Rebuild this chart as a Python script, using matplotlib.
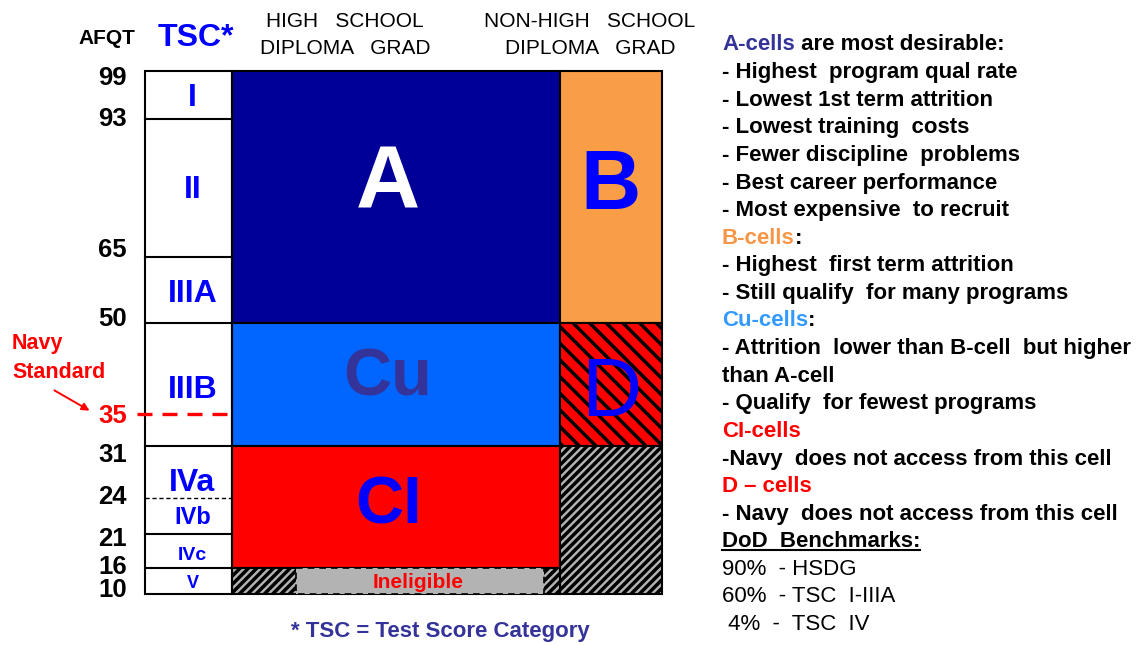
import numpy as np
import matplotlib
matplotlib.use('Agg')
import matplotlib.pyplot as plt
from matplotlib.patches import Rectangle

plt.rcParams['font.family'] = ['Liberation Sans', 'DejaVu Sans']
plt.rcParams['hatch.linewidth'] = 2.5

# AFQT percentile ticks and where they sit on the (non-linear) chart scale
afqt_ticks = [99, 93, 65, 50, 35, 31, 24, 21, 16, 10]
tick_y = [71, 119, 257, 323, 414, 446, 498, 534, 568, 594]
tick_dy = [7, 0, -7, -4, 2, 9, -1, 5, -1, -4]

# test score categories: label, top, bottom
tsc_labels = ['I', 'II', 'IIIA', 'IIIB', 'IVa', 'IVb', 'IVc', 'V']
tsc_top = [99, 93, 65, 50, 31, 24, 21, 16]
tsc_bot = [93, 65, 50, 31, 24, 21, 16, 10]
tsc_size = [23, 23, 23, 23, 23, 17, 14, 13]
tsc_dy = [3, 2, 4, 6, 11, 2, 5, 2]

# cells: name, column (0 = HS grad, 1 = non-HS grad), top, bottom
cell_names = ['A', 'B', 'Cu', 'D', 'CI', '', '']
cell_col = [0, 1, 0, 1, 0, 1, 0]
cell_top = [99, 99, 50, 50, 31, 31, 16]
cell_bot = [50, 50, 31, 31, 16, 10, 10]
cell_face = ['#000099', '#F99D46', '#0066FF', '#FF0000', '#FF0000', '#B3B3B3', '#B3B3B3']
cell_hatch = [None, None, None, '\\\\', None, '////', '////']
cell_text_col = ['white', '#0000FF', '#333399', '#0000FF', '#0000FF', 'k', 'k']
cell_text_size = [64, 60, 48, 60, 48, 0, 0]
cell_dx = [-8, 0, -8, 0, -7, 0, 0]
cell_dy = [-12, -10, -6, 10, 0, 0, 0]

notes = [
    ('A-cells', ' are most desirable:', '#333399', 'bold'),
    ('', '- Highest  program qual rate', 'k', 'bold'),
    ('', '- Lowest 1st term attrition', 'k', 'bold'),
    ('', '- Lowest training  costs', 'k', 'bold'),
    ('', '- Fewer discipline  problems', 'k', 'bold'),
    ('', '- Best career performance', 'k', 'bold'),
    ('', '- Most expensive  to recruit', 'k', 'bold'),
    ('B-cells', ':', '#F79646', 'bold'),
    ('', '- Highest  first term attrition', 'k', 'bold'),
    ('', '- Still qualify  for many programs', 'k', 'bold'),
    ('Cu-cells', ':', '#3399FF', 'bold'),
    ('', '- Attrition  lower than B-cell  but higher', 'k', 'bold'),
    ('', 'than A-cell', 'k', 'bold'),
    ('', '- Qualify  for fewest programs', 'k', 'bold'),
    ('CI-cells', '', '#FF0000', 'bold'),
    ('', '-Navy  does not access from this cell', 'k', 'bold'),
    ('D \u2013 cells', '', '#FF0000', 'bold'),
    ('', '- Navy  does not access from this cell', 'k', 'bold'),
    ('', 'DoD  Benchmarks:', 'k', 'bold'),
    ('', '90%  - HSDG', 'k', 'normal'),
    ('', '60%  - TSC  I-IIIA', 'k', 'normal'),
    ('', ' 4%  -  TSC  IV', 'k', 'normal'),
]


def yof(v):
    return np.interp(v, afqt_ticks[::-1], tick_y[::-1])


col_x = [145, 232, 560, 662]

fig = plt.figure(figsize=(11.38, 6.46), dpi=100)
ax = fig.add_axes([0, 0, 1, 1])
ax.set_xlim(0, 1138)
ax.set_ylim(646, 0)
ax.axis('off')

# cells
for name, c, t, b, fc, h, tc, s, dx, dy in zip(cell_names, cell_col, cell_top, cell_bot,
                                               cell_face, cell_hatch, cell_text_col,
                                               cell_text_size, cell_dx, cell_dy):
    x0, x1 = col_x[c + 1], col_x[c + 2]
    y0, y1 = yof(t), yof(b)
    ax.add_patch(Rectangle((x0, y0), x1 - x0, y1 - y0, facecolor=fc,
                           edgecolor='k' if h else 'none', hatch=h, lw=0))
    ax.add_patch(Rectangle((x0, y0), x1 - x0, y1 - y0, fill=False,
                           edgecolor='k', lw=1.5))
    if name:
        ax.text((x0 + x1) / 2 + dx, (y0 + y1) / 2 + dy, name, color=tc, fontsize=s,
                fontweight='bold' if name != 'D' else 'normal',
                ha='center', va='center')

# ineligible band: plain middle part with dashed edges
yi0, yi1 = yof(16), yof(10)
ax.add_patch(Rectangle((296, yi0), 248, yi1 - yi0, facecolor='#B3B3B3',
                       edgecolor='k', lw=1.2, ls=(0, (4, 3))))
ax.text(418, (yi0 + yi1) / 2 + 1, 'Ineligible', color='#FF0000', fontsize=15,
        fontweight='bold', ha='center', va='center')

# TSC column
ax.add_patch(Rectangle((col_x[0], yof(99)), col_x[1] - col_x[0], yof(10) - yof(99),
                       fill=False, edgecolor='k', lw=1.5))
for lab, t, b, s, dy in zip(tsc_labels, tsc_top, tsc_bot, tsc_size, tsc_dy):
    y0, y1 = yof(t), yof(b)
    if b == 24:
        ax.plot([col_x[0], col_x[1]], [y1, y1], color='k', lw=1, ls=(0, (3, 2)))
    elif b != 10:
        ax.plot([col_x[0], col_x[1]], [y1, y1], color='k', lw=1.5)
    ax.text((col_x[0] + col_x[1]) / 2 + 4, (y0 + y1) / 2 + dy, lab, color='#0000FF',
            fontsize=s, fontweight='bold', ha='center', va='center')

# AFQT tick labels
for v, y, dy in zip(afqt_ticks, tick_y, tick_dy):
    col = '#FF0000' if v == 35 else 'k'
    ax.text(127, y + dy, str(v), color=col, fontsize=18.5, fontweight='bold',
            ha='right', va='center')

# navy standard line
y35 = yof(35)
ax.plot([137, col_x[1]], [y35, y35], color='#FF0000', lw=2.4, ls=(0, (4.5, 3)))
ax.text(12, 344, 'Navy', color='#FF0000', fontsize=15.5, fontweight='bold',
        ha='left', va='center')
ax.text(12, 373, 'Standard', color='#FF0000', fontsize=15.5, fontweight='bold',
        ha='left', va='center')
ax.annotate('', xy=(92, 412), xytext=(52, 389),
            arrowprops=dict(arrowstyle='-|>', color='#FF0000', lw=1.4,
                            mutation_scale=11))

# headers
ax.text(107, 38, 'AFQT', fontsize=15, fontweight='bold', ha='center', va='center')
ax.text(196, 38, 'TSC*', color='#0000FF', fontsize=23, fontweight='bold',
        ha='center', va='center')
ax.text(345, 35, 'HIGH   SCHOOL\nDIPLOMA   GRAD', fontsize=15, ha='center',
        va='center', linespacing=1.5)
ax.text(590, 35, 'NON-HIGH   SCHOOL\nDIPLOMA   GRAD', fontsize=15, ha='center',
        va='center', linespacing=1.5)
ax.text(440, 632, '* TSC = Test Score Category', color='#333399', fontsize=16,
        fontweight='bold', ha='center', va='center')

# notes on the right
renderer = fig.canvas.get_renderer()
inv = ax.transData.inverted()
fs = 16
for i, (head, rest, col, wt) in enumerate(notes):
    y = 45 + i * 27.6
    if head:
        t = ax.text(722, y, head, color=col, fontsize=fs, fontweight=wt,
                    ha='left', va='center')
        if rest:
            ax.annotate(rest, xy=(1, 0), xycoords=t, fontsize=fs, fontweight=wt,
                        ha='left', va='bottom')
    else:
        t = ax.text(722, y, rest, color=col, fontsize=fs, fontweight=wt,
                    ha='left', va='center')
        if rest.startswith('DoD'):
            bb = t.get_window_extent(renderer)
            (xa, ya), (xb, yb) = inv.transform([[bb.x0, bb.y0], [bb.x1, bb.y0]])
            ax.plot([xa, xb], [ya - 2, yb - 2], color='k', lw=1.5)

fig.savefig('out.png', dpi=100)
